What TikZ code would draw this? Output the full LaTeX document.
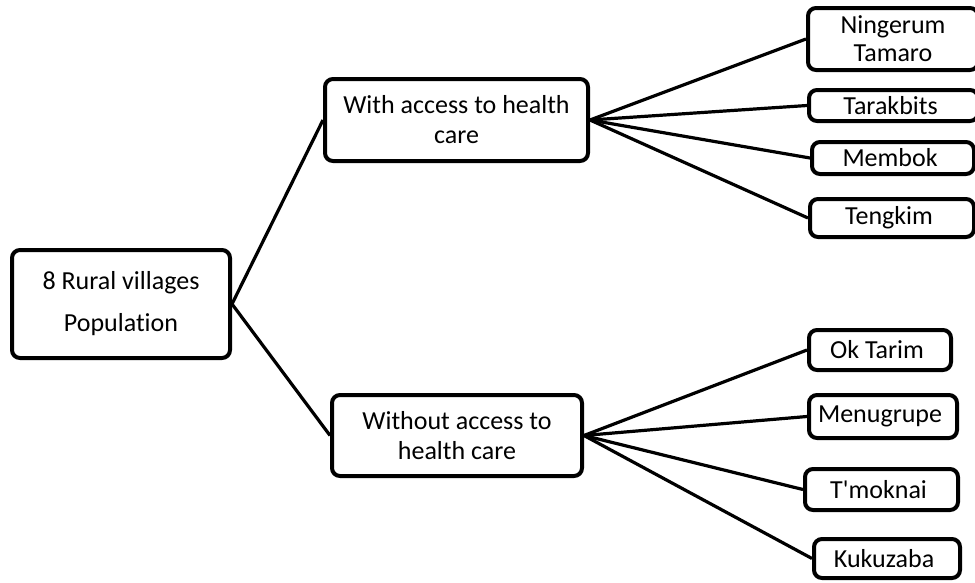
\documentclass[tikz,border=0pt]{standalone}
\usepackage{fontspec}
\setmainfont{Carlito}[Ligatures={NoCommon}]

\tikzset{
    box/.style={draw, line width=4pt, rounded corners=8pt, inner sep=0pt, align=center,
        font=\fontsize{26}{30}\selectfont},
    link/.style={line width=3.2pt}
}

\begin{document}
\begin{tikzpicture}[x=1pt, y=-1pt]
            \useasboundingbox (0, 0) rectangle (975, 582);

            \node[box, minimum width=218pt, minimum height=108pt,
                font=\fontsize{26}{42}\selectfont] (root) at (121, 304) { 8 Rural villages\\Population };

            \node[box, minimum width=263pt, minimum height=82pt] (with) at (456.5, 120) { With access to health\\care };
            \node[box, minimum width=250pt, minimum height=81pt] (without) at (457, 435.5) { Without access to\\health care };

            \node[box, minimum width=170pt, minimum height=62pt, font=\fontsize{26}{28}\selectfont] (ningerum) at (893, 39) { Ningerum\\Tamaro };
            \node[box, minimum width=169pt, minimum height=31pt] (tarakbits) at (893.5, 105.5) { Tarakbits };
            \node[box, minimum width=162pt, minimum height=32pt] (membok) at (893, 158) { Membok };
            \node[box, minimum width=164pt, minimum height=38pt] (tengkim) at (892, 218) { Tengkim };

            \node[box, minimum width=142pt, minimum height=40pt] (oktarim) at (880, 350) { Ok Tarim };
            \node[box, minimum width=148pt, minimum height=43pt] (menugrupe) at (883, 416.5) { Menugrupe };
            \node[box, minimum width=153pt, minimum height=41pt] (tmoknai) at (881.5, 489.5) { T\textquotesingle moknai };
            \node[box, minimum width=146pt, minimum height=39pt] (kukuzaba) at (887, 558.5) { Kukuzaba };

            % population split
            \draw[link] (root.east) -- (with.west);
            \draw[link] (root.east) -- (without.west);

            % villages with access
            \draw[link] (with.east) -- (ningerum.west);
            \draw[link] (with.east) -- (tarakbits.west);
            \draw[link] (with.east) -- (membok.west);
            \draw[link] (with.east) -- (tengkim.west);

            % villages without access
            \draw[link] (without.east) -- (oktarim.west);
            \draw[link] (without.east) -- (menugrupe.west);
            \draw[link] (without.east) -- (tmoknai.west);
            \draw[link] (without.east) -- (kukuzaba.west);
        \end{tikzpicture}
\end{document}
